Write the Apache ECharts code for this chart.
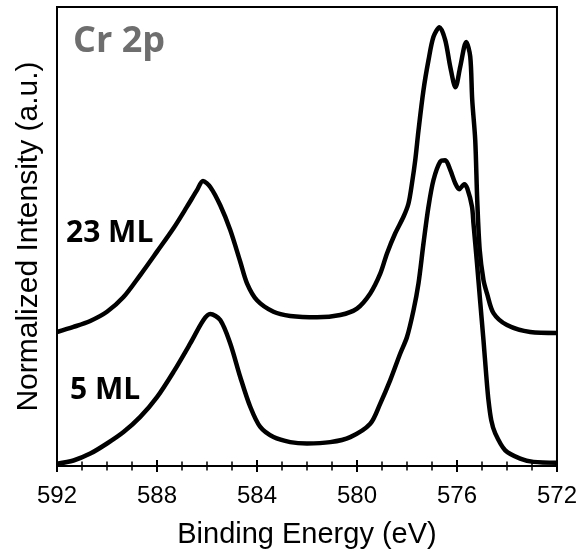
<!DOCTYPE html>
<html>
<head>
<meta charset="utf-8">
<script src="https://cdn.jsdelivr.net/npm/echarts@6/dist/echarts.min.js"></script>
<style>
html,body{margin:0;padding:0;background:#fff;}
#chart{width:580px;height:556px;}
</style>
</head>
<body>
<div id="chart"></div>
<script>
// Binding energy (eV) and normalized intensity
const energy23 = [592.00,591.34,590.67,590.00,589.34,588.67,588.00,587.34,586.80,586.40,586.16,585.87,585.47,585.07,584.67,584.40,584.00,583.34,582.67,581.60,580.67,580.00,579.47,579.07,578.80,578.47,578.14,577.94,577.80,577.67,577.54,577.34,577.14,576.94,576.70,576.47,576.27,576.06,575.87,575.63,575.47,575.39,575.27,575.19,575.09,574.94,574.80,574.54,574.00,573.07,572.00];
const intensity23 = [29.2,30.3,31.6,33.6,36.8,41.6,46.7,51.8,56.5,60.1,62.1,60.8,56.8,51.4,44.5,39.8,36.1,33.6,32.7,32.4,32.9,34.3,37.6,41.9,46.3,50.7,54.3,57.2,61.6,66.6,73.1,81.9,88.4,93.5,95.6,92.8,87.0,82.5,87.0,92.4,89.2,79.7,71.0,57.9,47.0,40.5,37.6,33.3,30.7,29.2,29.0];

const energy5 = [592.00,591.34,590.67,590.00,589.34,588.67,588.00,587.34,586.67,586.14,585.87,585.47,585.07,584.67,584.27,583.87,583.34,582.67,582.00,581.07,580.27,579.47,579.07,578.67,578.27,578.00,577.74,577.54,577.34,577.14,576.94,576.67,576.47,576.27,576.07,575.91,575.71,575.59,575.40,575.34,575.20,575.07,574.94,574.83,574.74,574.63,574.47,574.07,573.47,572.94,572.00];
const intensity5 = [0.5,1.2,2.7,4.9,7.4,10.7,15.0,20.5,26.7,31.8,33.1,31.8,26.7,19.4,12.9,8.5,6.3,5.2,4.9,5.2,6.3,9.2,13.6,18.7,24.5,28.1,33.9,39.8,48.5,56.5,62.3,66.3,66.6,64.5,61.6,60.3,61.4,60.5,56.5,52.8,44.2,35.7,27.4,19.8,14.3,10.0,7.1,3.4,1.6,0.9,0.7];

const seriesNames = ['23 ML', '5 ML'];
const xTicks = { min: 572, max: 592, interval: 4 };
const xTitle = 'Binding Energy (eV)';
const yTitle = 'Normalized Intensity (a.u.)';
const panelTitle = 'Cr 2p';

const pairs = (xs, ys) => xs.map((x, i) => [x, ys[i]]);

const chart = echarts.init(document.getElementById('chart'), null, {renderer: 'canvas'});
const axisFont = 'Liberation Sans, Arial, sans-serif';
const lineStyle = {color: '#000', width: 4.5};

chart.setOption({
  animation: false,
  backgroundColor: '#fff',
  grid: {left: 57, right: 23, top: 7, bottom: 90, show: true, borderColor: '#000', borderWidth: 2, backgroundColor: 'transparent'},
  xAxis: [
    {
      type: 'value', inverse: true, min: xTicks.min, max: xTicks.max, interval: xTicks.interval,
      position: 'bottom',
      axisLine: {show: true, lineStyle: {color: '#000', width: 2}},
      axisTick: {show: true, inside: false, length: 6, lineStyle: {color: '#000', width: 2}},
      minorTick: {show: true, splitNumber: 4, length: 4.5, lineStyle: {color: '#000', width: 1.5}},
      splitLine: {show: false},
      axisLabel: {show: true, color: '#000', fontSize: 24, fontFamily: axisFont, margin: 18},
      name: xTitle, nameLocation: 'middle', nameGap: 54,
      nameTextStyle: {color: '#000', fontSize: 29, fontFamily: axisFont}
    },
    {
      type: 'value', inverse: true, min: xTicks.min, max: xTicks.max, interval: xTicks.interval,
      position: 'bottom',
      axisLine: {show: false},
      axisTick: {show: true, inside: true, length: 6, lineStyle: {color: '#000', width: 2}},
      minorTick: {show: true, splitNumber: 4, length: 4.5, lineStyle: {color: '#000', width: 1.5}},
      splitLine: {show: false},
      axisLabel: {show: false}
    }
  ],
  yAxis: {
    type: 'value', min: 0, max: 100,
    axisLine: {show: true, lineStyle: {color: '#000', width: 2}},
    axisTick: {show: false},
    axisLabel: {show: false},
    splitLine: {show: false},
    name: yTitle, nameLocation: 'middle', nameGap: 13,
    nameTextStyle: {color: '#000', fontSize: 30, fontFamily: axisFont}
  },
  series: [
    {name: seriesNames[0], type: 'line', data: pairs(energy23, intensity23), showSymbol: false, smooth: 0.3, lineStyle: lineStyle, xAxisIndex: 0},
    {name: seriesNames[1], type: 'line', data: pairs(energy5, intensity5), showSymbol: false, smooth: 0.3, lineStyle: lineStyle, xAxisIndex: 0}
  ],
  graphic: [
    {type: 'text', left: 73, top: 24, style: {text: panelTitle, fill: '#6e6e6e', font: 'bold 36px "Open Sans", sans-serif'}},
    {type: 'text', left: 66, top: 218, style: {text: seriesNames[0], fill: '#000', font: 'bold 30px "Open Sans", sans-serif'}},
    {type: 'text', left: 70, top: 375, style: {text: seriesNames[1], fill: '#000', font: 'bold 30px "Open Sans", sans-serif'}}
  ]
});
</script>
</body>
</html>
